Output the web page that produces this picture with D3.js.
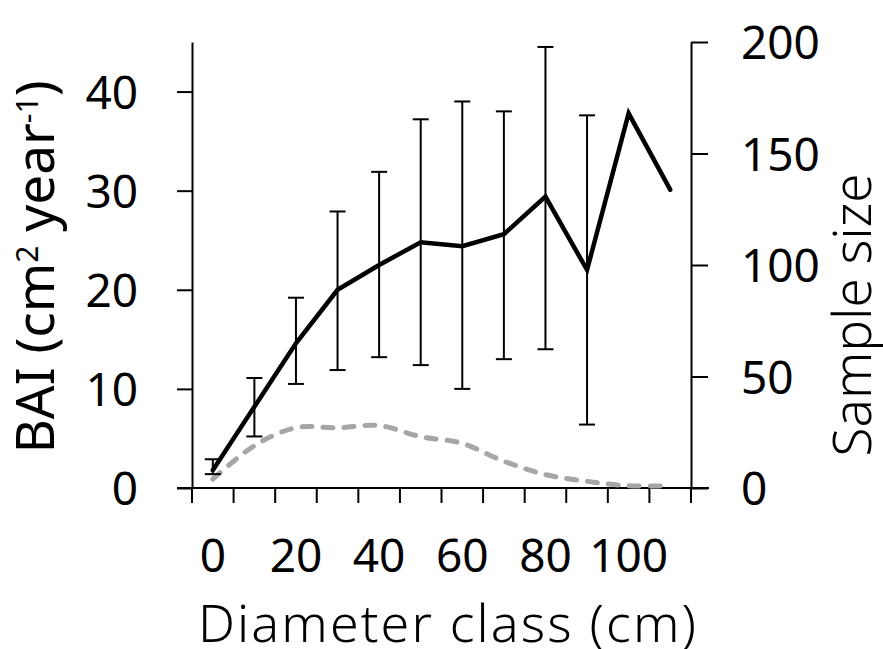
<!DOCTYPE html>
<html>
<head>
<meta charset="utf-8">
<script src="https://cdn.jsdelivr.net/npm/d3@7"></script>
<style>
  body { margin: 0; background: #fff; }
  svg text { font-family: "Noto Sans", "Open Sans", sans-serif; fill: #000; }
</style>
</head>
<body>
<div id="chart"></div>
<script>
// diameter classes (cm)
const classes = [0, 10, 20, 30, 40, 50, 60, 70, 80, 90, 100, 110];
const xTickLabels = [0, 20, 40, 60, 80, 100];
// mean BAI (cm2 year-1) per class
const baiMean = [1.8, 8.2, 14.6, 20.0, 22.5, 24.8, 24.4, 25.6, 29.4, 22.0, 37.8, 30.1];
// error bar ends, null where no bar is drawn
const baiHigh = [2.9, 11.1, 19.2, 27.9, 31.9, 37.2, 39.0, 38.0, 44.5, 37.6, null, null];
const baiLow = [1.4, 5.2, 10.5, 11.9, 13.2, 12.4, 10.0, 13.0, 14.0, 6.4, null, null];
// sample size per class
const sampleSize = [4, 19, 27, 27, 28, 23, 20, 12, 6, 3, 1, 1];
const leftTicks = [0, 10, 20, 30, 40];
const rightTicks = [0, 50, 100, 150, 200];

const width = 883, height = 649;

const svg = d3.select("#chart").append("svg")
    .attr("width", width)
    .attr("height", height);

const x = d3.scaleBand()
    .domain(classes)
    .range([192, 691]);

const yLeft = d3.scaleLinear()
    .domain([0, 45])
    .range([488, 42]);

const yRight = d3.scaleLinear()
    .domain([0, 200])
    .range([488, 42]);

const cx = d => x(d) + x.bandwidth() / 2;

// left axis
const leftAxis = svg.append("g")
    .attr("transform", "translate(192,0)")
    .call(d3.axisLeft(yLeft).tickValues(leftTicks).tickSize(15).tickSizeOuter(0).tickPadding(39));
leftAxis.select(".domain").attr("stroke", "#000").attr("stroke-width", 2);
leftAxis.selectAll(".tick line").attr("stroke", "#000").attr("stroke-width", 2);
leftAxis.selectAll("text").attr("font-size", 46).attr("font-family", null).attr("dy", "0.36em");

// right axis
const rightAxis = svg.append("g")
    .attr("transform", "translate(691,0)")
    .call(d3.axisRight(yRight).tickValues(rightTicks).tickSize(17).tickSizeOuter(0).tickPadding(33));
rightAxis.select(".domain").attr("stroke", "#000").attr("stroke-width", 2);
rightAxis.selectAll(".tick line").attr("stroke", "#000").attr("stroke-width", 2);
rightAxis.selectAll("text").attr("font-size", 46).attr("font-family", null).attr("dy", "0.36em");

// bottom axis: line, ticks at class boundaries, labels at class centres
const bottom = svg.append("g");
bottom.append("line")
    .attr("x1", 177).attr("x2", 709)
    .attr("y1", yLeft(0)).attr("y2", yLeft(0))
    .attr("stroke", "#000").attr("stroke-width", 2);

const bounds = classes.map(d => x(d)).concat([x.range()[1]]);
bottom.selectAll(".xtick")
    .data(bounds)
    .enter().append("line")
    .attr("class", "xtick")
    .attr("x1", d => d).attr("x2", d => d)
    .attr("y1", yLeft(0)).attr("y2", yLeft(0) + 15)
    .attr("stroke", "#000").attr("stroke-width", 2);

bottom.selectAll(".xlabel")
    .data(xTickLabels)
    .enter().append("text")
    .attr("class", "xlabel")
    .attr("x", d => cx(d))
    .attr("y", 572)
    .attr("text-anchor", "middle")
    .attr("font-size", 46)
    .text(d => d);

// sample size, dashed grey
const sampleLine = d3.line()
    .x((d, i) => cx(classes[i]))
    .y(d => yRight(d))
    .curve(d3.curveCardinal.tension(0));

svg.append("path")
    .datum(sampleSize)
    .attr("d", sampleLine)
    .attr("fill", "none")
    .attr("stroke", "#a6a6a6")
    .attr("stroke-width", 5)
    .attr("stroke-linecap", "round")
    .attr("stroke-dasharray", "10,11");

// error bars
const errData = classes.map((c, i) => ({ c: c, lo: baiLow[i], hi: baiHigh[i] }))
    .filter(d => d.lo !== null);

const err = svg.append("g").selectAll("g")
    .data(errData)
    .enter().append("g");

err.append("line")
    .attr("x1", d => cx(d.c)).attr("x2", d => cx(d.c))
    .attr("y1", d => yLeft(d.lo)).attr("y2", d => yLeft(d.hi))
    .attr("stroke", "#000").attr("stroke-width", 2);

err.selectAll(".cap")
    .data(d => [[d.c, d.lo], [d.c, d.hi]])
    .enter().append("line")
    .attr("class", "cap")
    .attr("x1", d => cx(d[0]) - 8).attr("x2", d => cx(d[0]) + 8)
    .attr("y1", d => yLeft(d[1])).attr("y2", d => yLeft(d[1]))
    .attr("stroke", "#000").attr("stroke-width", 2);

// mean BAI, solid black
const meanLine = d3.line()
    .x((d, i) => cx(classes[i]))
    .y(d => yLeft(d));

svg.append("path")
    .datum(baiMean)
    .attr("d", meanLine)
    .attr("fill", "none")
    .attr("stroke", "#000")
    .attr("stroke-width", 4.5)
    .attr("stroke-linejoin", "miter")
    .attr("stroke-linecap", "round");

// axis titles
const leftTitle = svg.append("text")
    .attr("transform", "translate(54,267) rotate(-90)")
    .attr("text-anchor", "middle")
    .attr("font-size", 53);
leftTitle.append("tspan").text("BAI (cm");
leftTitle.append("tspan").attr("font-size", 30).attr("dy", -16).text("2");
leftTitle.append("tspan").attr("dy", 16).text(" year");
leftTitle.append("tspan").attr("font-size", 30).attr("dy", -16).text("-1");
leftTitle.append("tspan").attr("dy", 16).text(")");

svg.append("text")
    .attr("transform", "translate(871,315) rotate(-90)")
    .attr("text-anchor", "middle")
    .attr("font-size", 53)
    .attr("font-weight", 300)
    .text("Sample size");

svg.append("text")
    .attr("x", 447)
    .attr("y", 642)
    .attr("text-anchor", "middle")
    .attr("font-size", 52)
    .attr("font-weight", 300)
    .attr("textLength", 498)
    .attr("lengthAdjust", "spacing")
    .text("Diameter class (cm)");
</script>
</body>
</html>
